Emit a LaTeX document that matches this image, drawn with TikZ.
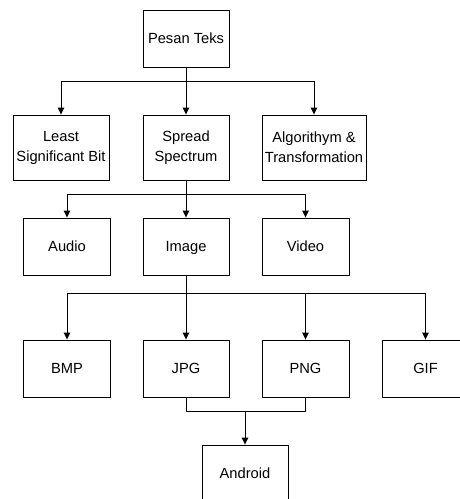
\documentclass[tikz,border=0pt]{standalone}
\usepackage{fontspec}
\setmainfont{Liberation Sans}
\usetikzlibrary{arrows.meta}
\begin{document}
\begin{tikzpicture}[x=1pt,y=-1pt,
  box/.style={draw, line width=0.9pt, rectangle, inner sep=0pt, align=center,
    font=\fontsize{14.7}{20}\selectfont},
  single/.style={box, text height=10.6pt, text depth=0pt},
  link/.style={line width=0.9pt},
  arr/.style={link, -{Triangle[length=7pt,width=6.5pt]}}]
\useasboundingbox (0,0) rectangle (460,499);
\clip (0,0) rectangle (460,499);

% level 1
\node[single, minimum width=86pt, minimum height=57pt] (pesan) at (186,38.5) {Pesan Teks};

% level 2: methods
\node[box, minimum width=96pt, minimum height=65pt] (lsb) at (61,147.5) {Least\\Significant Bit};
\node[box, minimum width=86pt, minimum height=65pt] (ss) at (186,147.5) {Spread\\Spectrum};
\node[box, minimum width=104pt, minimum height=65pt] (alg) at (314,147.5) {Algorithym \&\\Transformation};

% level 3: media
\node[single, minimum width=87pt, minimum height=57pt] (audio) at (67,246.5) {Audio};
\node[single, minimum width=86pt, minimum height=57pt] (image) at (186,246.5) {Image};
\node[single, minimum width=87pt, minimum height=57pt] (video) at (305.5,246.5) {Video};

% level 4: image formats
\node[single, minimum width=87pt, minimum height=57pt] (bmp) at (67,368.5) {BMP};
\node[single, minimum width=86pt, minimum height=57pt] (jpg) at (186,368.5) {JPG};
\node[single, minimum width=87pt, minimum height=57pt] (png) at (305.5,368.5) {PNG};
\node[single, minimum width=87pt, minimum height=57pt] (gif) at (425.5,368.5) {GIF};

% level 5
\node[single, minimum width=86pt, minimum height=57pt] (android) at (245,473.5) {Android};

% junction points
\coordinate (j1) at (186,81);
\coordinate (j2) at (186,194.5);
\coordinate (j3) at (186,293.5);
\coordinate (j4) at (245,411);

% connectors
\draw[link] (pesan) -- (j1);
\draw[arr] (j1) -| (lsb);
\draw[arr] (j1) -- (ss);
\draw[arr] (j1) -| (alg);

\draw[link] (ss) -- (j2);
\draw[arr] (j2) -| (audio);
\draw[arr] (j2) -- (image);
\draw[arr] (j2) -| (video);

\draw[link] (image) -- (j3);
\draw[arr] (j3) -| (bmp);
\draw[arr] (j3) -- (jpg);
\draw[arr] (j3) -| (png);
\draw[arr] (j3) -| (gif);

\draw[link] (jpg) |- (j4);
\draw[link] (png) |- (j4);
\draw[arr] (j4) -- (android);
\end{tikzpicture}
\end{document}
